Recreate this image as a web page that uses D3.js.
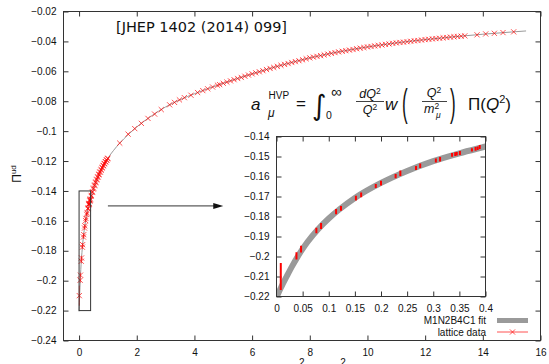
<!DOCTYPE html>
<html>
<head>
<meta charset="utf-8">
<script src="https://cdn.jsdelivr.net/npm/d3@7"></script>
<style>
  body { margin: 0; background: #fff; }
  text { font-family: "Liberation Sans", Arial, sans-serif; fill: #111; }
</style>
</head>
<body>
<svg id="chart" width="549" height="364"></svg>
<script>
// fit curve (M1N2B4C1)
const fitQ2 = [0, 0.005, 0.01, 0.02, 0.03, 0.04, 0.05, 0.06, 0.08, 0.1, 0.12, 0.15, 0.2, 0.25, 0.3, 0.35, 0.4,
  0.45, 0.5, 0.6, 0.7, 0.8, 0.9, 1.0, 1.2, 1.4, 1.7, 2.0, 2.5, 3.0, 3.5, 4.0, 5.0, 6.0, 7.0, 8.0, 9.0,
  10.0, 11.0, 12.0, 13.0, 14.0, 15.0, 15.5];
const fitPi = [-0.2205, -0.2175, -0.2148, -0.2097, -0.2048, -0.2003, -0.1962, -0.1925, -0.1862, -0.1810, -0.1765,
  -0.1707, -0.1632, -0.1572, -0.1523, -0.1484, -0.1450, -0.1416, -0.1385, -0.1331, -0.1285, -0.1246, -0.1211,
  -0.1180, -0.1128, -0.1082, -0.1024, -0.0972, -0.0900, -0.0838, -0.0790, -0.0750, -0.0680, -0.0617, -0.0560,
  -0.0510, -0.0470, -0.0437, -0.0410, -0.0388, -0.0369, -0.0352, -0.0337, -0.0330];

// lattice data, low Q^2 (shown in the inset with error bars)
const lowQ2 = [0.0082, 0.0382, 0.0470, 0.0763, 0.0853, 0.1140, 0.1234, 0.1520, 0.1620, 0.1900, 0.2000, 0.2280,
  0.2370, 0.2670, 0.2750, 0.3050, 0.3130, 0.3360, 0.3420, 0.3450, 0.3510, 0.3740, 0.3810, 0.3850, 0.3890];
const lowPi = [-0.2100, -0.1997, -0.1963, -0.1870, -0.1848, -0.1776, -0.1759, -0.1708, -0.1692, -0.1648, -0.1633,
  -0.1598, -0.1584, -0.1557, -0.1546, -0.1520, -0.1514, -0.1492, -0.1488, -0.1486, -0.1483, -0.1467, -0.1462,
  -0.1459, -0.1453];
const lowErr = [0.0067, 0.0018, 0.0017, 0.0014, 0.0015, 0.0013, 0.0012, 0.0012, 0.0012, 0.0010, 0.0012, 0.0011,
  0.0014, 0.0010, 0.0011, 0.0010, 0.0011, 0.0009, 0.0009, 0.0009, 0.0010, 0.0008, 0.0009, 0.0009, 0.0010];

// lattice data above Q^2 = 0.4
const highQ2 = [0.418, 0.427, 0.456, 0.465, 0.494, 0.503, 0.532, 0.541, 0.570, 0.579, 0.608, 0.617, 0.646, 0.655,
  0.684, 0.693, 0.722, 0.731, 0.760, 0.769, 0.798, 0.807, 0.836, 0.845, 0.874, 0.883, 0.912, 0.921, 0.950, 0.959,
  0.988, 0.997,
  1.41, 1.70, 1.93, 2.16, 2.39, 2.62, 2.85, 3.14, 3.31, 3.48, 3.65, 3.88, 4.11, 4.29, 4.46, 4.63, 4.80,
  4.875, 5.0, 5.125, 5.25, 5.375, 5.5, 5.625, 5.75, 5.875, 6.0, 6.125, 6.25, 6.375, 6.5, 6.625, 6.75, 6.875,
  7.0, 7.125, 7.25, 7.375, 7.5, 7.625, 7.75, 7.875, 8.0, 8.125, 8.25, 8.375, 8.5, 8.625, 8.75, 8.875,
  9.0, 9.125, 9.25, 9.375, 9.5, 9.625, 9.75, 9.875, 10.0, 10.125, 10.25, 10.375, 10.5, 10.625, 10.75, 10.875,
  11.0, 11.125, 11.25, 11.375, 11.5, 11.625, 11.75, 11.875, 12.0, 12.125, 12.25, 12.375, 12.5, 12.625, 12.75,
  12.875, 13.0, 13.125, 13.25, 13.375, 13.8, 14.1, 14.4, 14.7, 15.07];
const highPi = [-0.1436, -0.1430, -0.1410, -0.1405, -0.1387, -0.1381, -0.1365, -0.1360, -0.1345, -0.1340,
  -0.1326, -0.1322, -0.1309, -0.1305, -0.1292, -0.1288, -0.1276, -0.1272, -0.1261, -0.1257, -0.1246, -0.1243,
  -0.1232, -0.1229, -0.1219, -0.1216, -0.1206, -0.1204, -0.1195, -0.1192, -0.1184, -0.1181,
  -0.1080, -0.1020, -0.0983, -0.0948, -0.0915, -0.0886, -0.0856, -0.0824, -0.0808, -0.0791, -0.0776, -0.0760,
  -0.0742, -0.0729, -0.0717, -0.0705, -0.0693,
  -0.0689, -0.0680, -0.0672, -0.0664, -0.0656, -0.0648, -0.0641, -0.0633, -0.0625, -0.0617, -0.0610, -0.0603,
  -0.0596, -0.0588, -0.0581, -0.0574, -0.0567, -0.0560, -0.0554, -0.0548, -0.0541, -0.0535, -0.0529, -0.0523,
  -0.0516, -0.0510, -0.0505, -0.0500, -0.0495, -0.0490, -0.0485, -0.0480, -0.0475, -0.0470, -0.0466, -0.0462,
  -0.0458, -0.0454, -0.0449, -0.0445, -0.0441, -0.0437, -0.0434, -0.0430, -0.0427, -0.0424, -0.0420, -0.0417,
  -0.0413, -0.0410, -0.0407, -0.0405, -0.0402, -0.0399, -0.0396, -0.0394, -0.0391, -0.0388, -0.0386, -0.0383,
  -0.0381, -0.0379, -0.0376, -0.0374, -0.0371, -0.0369, -0.0367, -0.0365, -0.0363, -0.0356, -0.0350, -0.0346,
  -0.0341, -0.0336];

const xTicks = [0, 2, 4, 6, 8, 10, 12, 14, 16];
const yTicks = [-0.02, -0.04, -0.06, -0.08, -0.1, -0.12, -0.14, -0.16, -0.18, -0.2, -0.22, -0.24];
const insetXTicks = [0, 0.05, 0.1, 0.15, 0.2, 0.25, 0.3, 0.35, 0.4];
const insetYTicks = [-0.14, -0.15, -0.16, -0.17, -0.18, -0.19, -0.2, -0.21, -0.22];
const legendLabels = ["M1N2B4C1 fit", "lattice data"];

const fit = fitQ2.map((q, i) => ({ q: q, p: fitPi[i] }));
const low = lowQ2.map((q, i) => ({ q: q, p: lowPi[i], e: lowErr[i] }));
const high = highQ2.map((q, i) => ({ q: q, p: highPi[i] }));
const allPts = low.concat(high);

const svg = d3.select("#chart");
const frameColor = "#333";
const red = "#ff0000";

// ---------- main plot ----------
const x = d3.scaleLinear().domain([-0.54, 16]).range([63.5, 540.5]);
const y = d3.scaleLinear().domain([-0.24, -0.02]).range([340.5, 11.5]);

svg.append("defs").append("clipPath").attr("id", "mainClip")
  .append("rect").attr("x", 63.5).attr("y", 11.5).attr("width", 477).attr("height", 329);

function styleAxis(g) {
  g.select(".domain").remove();
  g.selectAll(".tick line").attr("stroke", frameColor);
  g.selectAll(".tick text").style("font-size", "10px").attr("fill", "#111");
}
const fmt = d => d3.format("")(+d.toFixed(2));

svg.append("g").attr("transform", "translate(0,340.5)")
  .call(d3.axisBottom(x).tickValues(xTicks).tickSizeInner(-5).tickSizeOuter(0).tickPadding(8).tickFormat(d3.format("d")))
  .call(styleAxis);
svg.append("g").attr("transform", "translate(0,11.5)")
  .call(d3.axisBottom(x).tickValues(xTicks).tickSize(5).tickFormat(""))
  .call(styleAxis);
svg.append("g").attr("transform", "translate(63.5,0)")
  .call(d3.axisLeft(y).tickValues(yTicks).tickSizeInner(-5).tickSizeOuter(0).tickPadding(7).tickFormat(fmt))
  .call(styleAxis);
svg.append("g").attr("transform", "translate(540.5,0)")
  .call(d3.axisLeft(y).tickValues(yTicks).tickSize(5).tickFormat(""))
  .call(styleAxis);

svg.append("rect").attr("x", 63.5).attr("y", 11.5).attr("width", 477).attr("height", 329)
  .attr("fill", "none").attr("stroke", frameColor).attr("stroke-width", 1);

const mainG = svg.append("g").attr("clip-path", "url(#mainClip)");

const fitLine = d3.line().x(d => x(d.q)).y(d => y(d.p)).curve(d3.curveMonotoneX);
mainG.append("path").datum(fit).attr("d", fitLine)
  .attr("fill", "none").attr("stroke", "#9a9a9a").attr("stroke-width", 1);

mainG.selectAll("line.err").data(low).enter().append("line")
  .attr("x1", d => x(d.q)).attr("x2", d => x(d.q))
  .attr("y1", d => y(d.p - d.e)).attr("y2", d => y(d.p + d.e))
  .attr("stroke", red).attr("stroke-width", 0.8).attr("opacity", 0.7);

const s = 2.6;
mainG.selectAll("path.pt").data(allPts).enter().append("path")
  .attr("d", d => {
    const px = x(d.q), py = y(d.p);
    return `M${px - s},${py - s}L${px + s},${py + s}M${px - s},${py + s}L${px + s},${py - s}`;
  })
  .attr("stroke", red).attr("stroke-width", 0.9).attr("fill", "none").attr("opacity", 0.75);

// zoom window and arrow
svg.append("rect").attr("x", x(0)).attr("y", y(-0.14))
  .attr("width", x(0.4) - x(0)).attr("height", y(-0.22) - y(-0.14))
  .attr("fill", "none").attr("stroke", frameColor).attr("stroke-width", 1);
svg.append("line").attr("x1", x(1)).attr("x2", x(5) - 9).attr("y1", y(-0.15)).attr("y2", y(-0.15))
  .attr("stroke", frameColor).attr("stroke-width", 1);
svg.append("path")
  .attr("d", `M${x(5)},${y(-0.15)}L${x(5) - 10},${y(-0.15) - 3}L${x(5) - 10},${y(-0.15) + 3}Z`)
  .attr("fill", "#111");

// reference label
svg.append("text").attr("x", 116).attr("y", 32)
  .style("font-family", "'DejaVu Sans', sans-serif").style("font-size", "14.5px")
  .text("[JHEP 1402 (2014) 099]");

// axis titles
const yl = svg.append("text").attr("transform", "translate(21,174) rotate(-90)")
  .attr("text-anchor", "middle").style("font-size", "12px");
yl.append("tspan").text("Π");
yl.append("tspan").attr("dy", -5).style("font-size", "8px").text("ud");

// x title sits mostly below the picture edge, as in the reference
const xl = svg.append("text").attr("x", 288).attr("y", 375).style("font-size", "14px");
xl.append("tspan").text("Q");
xl.append("tspan").attr("dy", -9).style("font-size", "10px").text("2");
xl.append("tspan").attr("dy", 9).text(" [GeV");
xl.append("tspan").attr("dy", -9).style("font-size", "10px").text("2");
xl.append("tspan").attr("dy", 9).text("]");

// ---------- formula ----------
const fg = svg.append("g");
function t(px, py, str, size, italic, anchor) {
  return fg.append("text").attr("x", px).attr("y", py).style("font-size", size + "px")
    .style("font-style", italic ? "italic" : "normal").attr("text-anchor", anchor || "start").text(str);
}
t(251, 110, "a", 17, true);
t(268.5, 99, "HVP", 10, false);
t(268, 117, "μ", 12, true);
t(296, 109, "=", 17, false);
t(312, 115, "∫", 28, false).style("font-family", "'DejaVu Sans', sans-serif");
t(326, 119, "0", 10.5, false);
t(331, 97, "∞", 15, false);
const num1 = t(370, 98, "", 12.5, true, "middle");
num1.append("tspan").text("dQ");
num1.append("tspan").attr("dy", -4.5).style("font-size", "8.5px").style("font-style", "normal").text("2");
fg.append("line").attr("x1", 356).attr("x2", 384).attr("y1", 101.5).attr("y2", 101.5).attr("stroke", "#111").attr("stroke-width", 0.8);
const den1 = t(370, 114, "", 12.5, true, "middle");
den1.append("tspan").text("Q");
den1.append("tspan").attr("dy", -4.5).style("font-size", "8.5px").style("font-style", "normal").text("2");
t(385, 110, "w", 17, true);
fg.append("text").attr("transform", "translate(402,116) scale(1,2.3)").style("font-size", "17px").text("(");
const num2 = t(434, 97, "", 12.5, true, "middle");
num2.append("tspan").text("Q");
num2.append("tspan").attr("dy", -4.5).style("font-size", "8.5px").style("font-style", "normal").text("2");
fg.append("line").attr("x1", 422).attr("x2", 447).attr("y1", 101.5).attr("y2", 101.5).attr("stroke", "#111").attr("stroke-width", 0.8);
const den2 = t(424, 113, "", 12.5, true);
den2.append("tspan").text("m");
den2.append("tspan").attr("dy", -4.5).style("font-size", "8.5px").style("font-style", "normal").text("2");
den2.append("tspan").attr("x", 436).attr("dy", 9.5).style("font-size", "8.5px").text("μ");
fg.append("text").attr("transform", "translate(450,116) scale(1,2.3)").style("font-size", "17px").text(")");
const pi = t(468, 110, "", 17, false);
pi.append("tspan").text("Π(");
pi.append("tspan").style("font-style", "italic").text("Q");
pi.append("tspan").attr("dy", -7).style("font-size", "11px").text("2");
pi.append("tspan").attr("dy", 7).text(")");

// ---------- inset ----------
const xi = d3.scaleLinear().domain([0, 0.4]).range([276.5, 485.5]);
const yi = d3.scaleLinear().domain([-0.22, -0.14]).range([296.5, 136.5]);

svg.append("rect").attr("x", 276.5).attr("y", 136.5).attr("width", 209).attr("height", 160).attr("fill", "#fff");
svg.select("defs").append("clipPath").attr("id", "insetClip")
  .append("rect").attr("x", 276.5).attr("y", 136.5).attr("width", 209).attr("height", 160);

svg.append("g").attr("transform", "translate(0,296.5)")
  .call(d3.axisBottom(xi).tickValues(insetXTicks).tickSizeInner(-5).tickSizeOuter(0).tickPadding(8).tickFormat(fmt))
  .call(styleAxis);
svg.append("g").attr("transform", "translate(0,136.5)")
  .call(d3.axisBottom(xi).tickValues(insetXTicks).tickSize(5).tickFormat(""))
  .call(styleAxis);
svg.append("g").attr("transform", "translate(276.5,0)")
  .call(d3.axisLeft(yi).tickValues(insetYTicks).tickSizeInner(-5).tickSizeOuter(0).tickPadding(7).tickFormat(fmt))
  .call(styleAxis);
svg.append("g").attr("transform", "translate(485.5,0)")
  .call(d3.axisLeft(yi).tickValues(insetYTicks).tickSize(5).tickFormat(""))
  .call(styleAxis);

const insetG = svg.append("g").attr("clip-path", "url(#insetClip)");
const fitLineI = d3.line().x(d => xi(d.q)).y(d => yi(d.p)).curve(d3.curveMonotoneX);
insetG.append("path").datum(fit.filter(d => d.q <= 0.45)).attr("d", fitLineI)
  .attr("fill", "none").attr("stroke", "#9a9a9a").attr("stroke-width", 6);
insetG.selectAll("line.ierr").data(low).enter().append("line")
  .attr("x1", d => xi(d.q)).attr("x2", d => xi(d.q))
  .attr("y1", d => yi(d.p - d.e)).attr("y2", d => yi(d.p + d.e))
  .attr("stroke", red).attr("stroke-width", 2);

svg.append("rect").attr("x", 276.5).attr("y", 136.5).attr("width", 209).attr("height", 160)
  .attr("fill", "none").attr("stroke", frameColor).attr("stroke-width", 1);

// ---------- legend ----------
const lg = svg.append("g");
lg.selectAll("text").data(legendLabels).enter().append("text")
  .attr("x", 486).attr("y", (d, i) => 324 + i * 11.5)
  .attr("text-anchor", "end").style("font-size", "10px").text(d => d);
lg.append("line").attr("x1", 497).attr("x2", 528).attr("y1", 320.5).attr("y2", 320.5)
  .attr("stroke", "#9a9a9a").attr("stroke-width", 5);
lg.append("line").attr("x1", 497).attr("x2", 528).attr("y1", 332).attr("y2", 332)
  .attr("stroke", red).attr("stroke-width", 0.9).attr("opacity", 0.75);
lg.append("path").attr("d", `M${512.5 - s},${332 - s}L${512.5 + s},${332 + s}M${512.5 - s},${332 + s}L${512.5 + s},${332 - s}`)
  .attr("stroke", red).attr("stroke-width", 0.9).attr("opacity", 0.75);
</script>
</body>
</html>
